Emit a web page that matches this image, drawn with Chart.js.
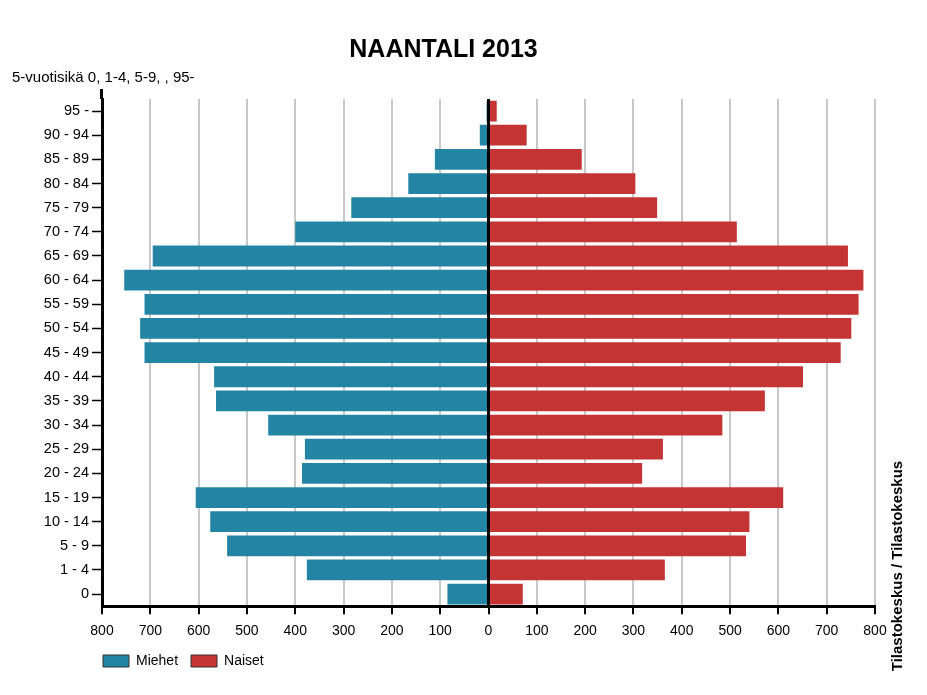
<!DOCTYPE html>
<html>
<head>
<meta charset="utf-8">
<script src="https://cdn.jsdelivr.net/npm/chart.js@4"></script>
<style>
  html, body { margin: 0; padding: 0; background: #fff; }
  #wrap { width: 927px; height: 695px; }
</style>
</head>
<body>
<div id="wrap"><canvas id="myChart" width="927" height="695"></canvas></div>
<script>
// ikäryhmät ylhäältä alas
var ikaryhmat = ["95 -","90 - 94","85 - 89","80 - 84","75 - 79","70 - 74","65 - 69","60 - 64","55 - 59","50 - 54","45 - 49","40 - 44","35 - 39","30 - 34","25 - 29","20 - 24","15 - 19","10 - 14","5 - 9","1 - 4","0"];
var miehet = [4, 18, 111, 166, 284, 400, 695, 754, 712, 721, 712, 568, 564, 456, 380, 386, 606, 576, 541, 376, 85];
var naiset = [17, 79, 193, 304, 349, 514, 744, 776, 766, 751, 729, 651, 572, 484, 361, 318, 610, 540, 533, 365, 71];
var xTicks = [-800, -700, -600, -500, -400, -300, -200, -100, 0, 100, 200, 300, 400, 500, 600, 700, 800];

var otsikko = "NAANTALI 2013";
var alaotsikko = "5-vuotisikä 0, 1-4, 5-9, , 95-";
var lahde = "Tilastokeskus / Tilastokeskus";

var fontti = "'Liberation Sans', Arial, sans-serif";

// nollaviiva pylväiden päälle + lähdeteksti oikealle
var extras = {
	id: "extras",
	afterLayout: function(chart) {
		chart.legend.left = chart.chartArea.left - 12;
		chart.legend.top -= 8;
	},
	afterDatasetsDraw: function(chart) {
		var ctx = chart.ctx;
		var x0 = chart.scales.x.getPixelForValue(0);
		var a = chart.chartArea;
		ctx.save();
		ctx.strokeStyle = "#000";
		ctx.lineWidth = 3;
		ctx.beginPath();
		ctx.moveTo(x0, a.top);
		ctx.lineTo(x0, a.bottom);
		// y-akseli jatkuu hieman ylemmäs
		ctx.moveTo(a.left - 0.5, a.top - 10);
		ctx.lineTo(a.left - 0.5, a.top);
		ctx.stroke();
		ctx.restore();
	},
	afterDraw: function(chart) {
		var ctx = chart.ctx;
		ctx.save();
		ctx.translate(898, 566);
		ctx.rotate(-Math.PI / 2);
		ctx.font = "bold 15px " + fontti;
		ctx.fillStyle = "#000";
		ctx.textAlign = "center";
		ctx.textBaseline = "middle";
		ctx.fillText(lahde, 0, 0);
		ctx.restore();
	}
};

var ctx = document.getElementById("myChart");

var myChart = new Chart(ctx, {
	type: "bar",
	data: {
		labels: ikaryhmat,
		datasets: [
			{
				label: "Miehet",
				data: miehet.map(function(v) { return -v; }),
				backgroundColor: "#2484a4",
				borderWidth: 0
			},
			{
				label: "Naiset",
				data: naiset,
				backgroundColor: "#c43434",
				borderWidth: 0
			}
		]
	},
	options: {
		indexAxis: "y",
		responsive: false,
		animation: false,
		barPercentage: 0.86,
		categoryPercentage: 1,
		layout: { padding: { left: 12, right: 52, top: 0, bottom: 9 } },
		scales: {
			x: {
				stacked: true,
				min: -800,
				max: 800,
				afterBuildTicks: function(scale) {
					scale.ticks = xTicks.map(function(v) { return { value: v }; });
				},
				ticks: {
					autoSkip: false,
					maxRotation: 0,
					padding: 9,
					color: "#000",
					font: { family: fontti, size: 14 },
					callback: function(v) { return Math.abs(v); }
				},
				grid: {
					color: "#c8c8c8",
					lineWidth: 2,
					tickColor: "#000",
					tickWidth: 2,
					tickLength: 8
				},
				border: { color: "#000", width: 3 }
			},
			y: {
				stacked: true,
				afterFit: function(scale) { scale.width = 90; },
				ticks: {
					autoSkip: false,
					padding: 3,
					color: "#000",
					font: { family: fontti, size: 14.5 }
				},
				grid: {
					offset: false,
					drawOnChartArea: false,
					tickColor: "#000",
					tickWidth: 1.5,
					tickLength: 10
				},
				border: { color: "#000", width: 3 }
			}
		},
		plugins: {
			title: {
				display: true,
				text: otsikko,
				color: "#000",
				font: { family: fontti, size: 25, weight: "bold" },
				padding: { top: 35, bottom: 4 }
			},
			subtitle: {
				display: true,
				text: alaotsikko,
				align: "start",
				color: "#000",
				font: { family: fontti, size: 15 },
				padding: { top: 0, bottom: 12 }
			},
			legend: {
				position: "bottom",
				align: "start",
				fullSize: false,
				labels: {
					boxWidth: 26,
					boxHeight: 12,
					padding: 13,
					color: "#000",
					font: { family: fontti, size: 14 },
					generateLabels: function(chart) {
						return chart.data.datasets.map(function(ds, i) {
							return {
								text: ds.label,
								fillStyle: ds.backgroundColor,
								strokeStyle: "#333",
								lineWidth: 1,
								fontColor: "#000",
								datasetIndex: i
							};
						});
					}
				}
			},
			tooltip: { enabled: false }
		}
	},
	plugins: [extras]
});
</script>
</body>
</html>
